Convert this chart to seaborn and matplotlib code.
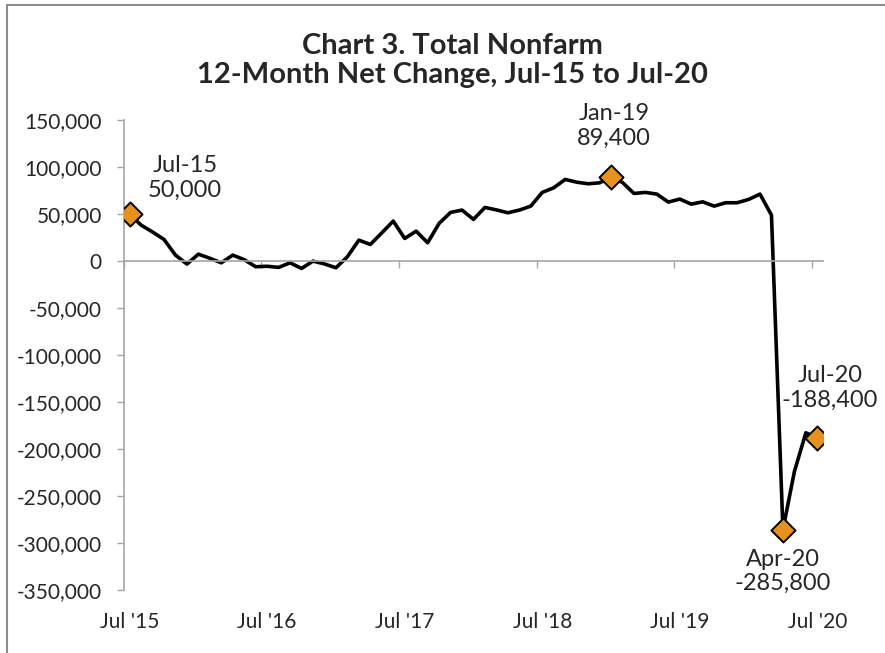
import matplotlib
matplotlib.use("Agg")
import matplotlib.pyplot as plt
from matplotlib.ticker import FuncFormatter
from matplotlib.patches import Rectangle
import pandas as pd
import seaborn as sns

# ---------------- data ----------------
month_index = list(range(61))  # Jul 2015 .. Jul 2020
net_change = [
    50000, 38300, 31000, 23000, 6400, -3200, 7400, 3000, -1800, 6400,
    1500, -6000, -5500, -6700, -1800, -7800, 0, -3000, -7100, 4600,
    22300, 17700, 30000, 42600, 24100, 31900, 19500, 40100, 51800, 54300,
    44400, 57100, 54500, 51400, 54300, 58500, 73100, 78000, 86900, 84000,
    82300, 83300, 89400, 83700, 72000, 73100, 71300, 62800, 66000, 60600,
    63100, 58500, 62100, 62100, 65600, 71300, 48900, -285800, -224000, -182700,
    -188400,
]
tick_labels = ["Jul '15", "Jul '16", "Jul '17", "Jul '18", "Jul '19", "Jul '20"]
highlight_idx = [0, 42, 57, 60]
highlight_names = ["Jul-15", "Jan-19", "Apr-20", "Jul-20"]

df = pd.DataFrame({"month": month_index, "change": net_change})
hl = df.iloc[highlight_idx]

# ---------------- style ----------------
sns.set_style("white")
plt.rcParams["font.family"] = ["Lato", "DejaVu Sans"]
gray = "#a6a6a6"

fig = plt.figure(figsize=(8.85, 6.53), dpi=100)
ax = fig.add_axes([0.140, 0.0965, 0.790, 0.7195])

sns.lineplot(data=df, x="month", y="change", color="black", linewidth=2.6, ax=ax)
sns.scatterplot(data=hl, x="month", y="change", marker="D", s=150,
                color="#e8921e", edgecolor="black", linewidth=1.4,
                zorder=5, ax=ax)

ax.set_xlim(-0.5, 60.5)
ax.set_ylim(-350000, 150000)
ax.set_xlabel("")
ax.set_ylabel("")

# y axis
ax.set_yticks(range(-350000, 150001, 50000))
ax.yaxis.set_major_formatter(FuncFormatter(lambda v, p: f"{int(v):,}"))
ax.tick_params(axis="y", direction="out", length=5, width=1, color=gray,
               pad=11, labelsize=15, left=True)

# x axis line sits at zero, tick marks between categories
for s in ["top", "right"]:
    ax.spines[s].set_visible(False)
ax.spines["bottom"].set_position(("data", 0))
for s in ["left", "bottom"]:
    ax.spines[s].set_color(gray)
    ax.spines[s].set_linewidth(1.2)
ax.set_xticks([-0.5, 11.5, 23.5, 35.5, 47.5, 59.5])
ax.set_xticklabels([])
ax.tick_params(axis="x", direction="out", length=5, width=1, color=gray, bottom=True)

# category labels at the bottom of the plot
sec = ax.secondary_xaxis("bottom")
sec.set_xticks([0, 12, 24, 36, 48, 60])
sec.set_xticklabels(tick_labels)
sec.tick_params(length=0, pad=16, labelsize=15)
sec.spines["bottom"].set_visible(False)

# point labels
offsets = {"Jul-15": (40, 26), "Jan-19": (2, 37), "Apr-20": (0, -30), "Jul-20": (9, 36)}
for name, (_, row) in zip(highlight_names, hl.iterrows()):
    ax.annotate(f"{name}\n{int(row['change']):,}",
                xy=(row["month"], row["change"]), xytext=offsets[name],
                textcoords="offset points", ha="center", va="center",
                fontsize=17, linespacing=1.2)

fig.text(0.511, 0.908, "Chart 3. Total Nonfarm\n12-Month Net Change, Jul-15 to Jul-20",
         ha="center", va="center", fontsize=21, fontweight="bold", linespacing=1.15)

# chart border (only left and top edges show in the frame)
fig.patches.append(Rectangle((0.008, -0.05), 1.2, 1.042, transform=fig.transFigure,
                             fill=False, edgecolor="#8c8c8c", linewidth=1.5))

fig.savefig("out.png", dpi=100)
